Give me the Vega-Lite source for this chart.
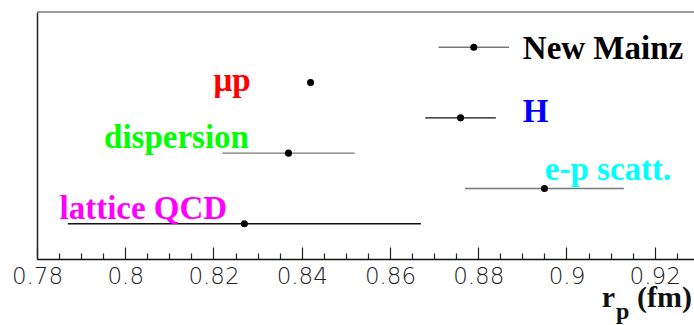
{
  "$schema": "https://vega.github.io/schema/vega-lite/v6.json",
  "width": 657,
  "height": 247,
  "autosize": {"type": "none"},
  "padding": {"left": 37, "top": 12, "right": 0, "bottom": 66},
  "background": "white",
  "config": {"view": {"stroke": null}, "axis": {"grid": false}},
  "datasets": {
    "meas": [
      {"name": "New Mainz", "r": 0.879, "lo": 0.871, "hi": 0.887, "row": 1},
      {"name": "μp", "r": 0.842, "lo": 0.8416, "hi": 0.8424, "row": 2},
      {"name": "H", "r": 0.876, "lo": 0.868, "hi": 0.884, "row": 3},
      {"name": "dispersion", "r": 0.837, "lo": 0.822, "hi": 0.852, "row": 4},
      {"name": "e-p scatt.", "r": 0.895, "lo": 0.877, "hi": 0.913, "row": 5},
      {"name": "lattice QCD", "r": 0.827, "lo": 0.787, "hi": 0.867, "row": 6}
    ],
    "labels": [
      {"name": "New Mainz", "lx": 0.8901, "ly": 1.326},
      {"name": "μp", "lx": 0.82, "ly": 2.253},
      {"name": "H", "lx": 0.8901, "ly": 3.123},
      {"name": "dispersion", "lx": 0.7952, "ly": 3.868},
      {"name": "e-p scatt.", "lx": 0.8951, "ly": 4.766},
      {"name": "lattice QCD", "lx": 0.7851, "ly": 5.86}
    ],
    "titleMain": [
      {"t": "r", "tx": 0.9080, "ty": 8.36},
      {"t": "(fm)", "tx": 0.9160, "ty": 8.36}
    ],
    "titleSub": [
      {"t": "p", "tx": 0.9112, "ty": 8.69}
    ]
  },
  "resolve": {"axis": {"x": "independent"}},
  "layer": [
    {
      "data": {"name": "meas"},
      "mark": {"type": "rule", "strokeWidth": 1.4},
      "encoding": {
        "x": {
          "field": "lo", "type": "quantitative",
          "scale": {"domain": [0.78, 0.9289], "nice": false, "zero": false},
          "axis": {
            "orient": "bottom",
            "values": [0.78, 0.8, 0.82, 0.84, 0.86, 0.88, 0.9, 0.92],
            "format": ".2~f",
            "tickSize": -12, "tickColor": "#222", "tickWidth": 1.2,
            "domainColor": "#111", "domainWidth": 1.5,
            "labelFont": "DejaVu Sans", "labelFontWeight": 200, "labelFontSize": 23,
            "labelColor": "#222", "labelPadding": 18, "labelFlush": false,
            "title": null
          }
        },
        "x2": {"field": "hi"},
        "y": {
          "field": "row", "type": "quantitative",
          "scale": {"domain": [0, 7], "reverse": true, "nice": false, "zero": false},
          "axis": {"orient": "left", "ticks": false, "labels": false, "title": null, "domainColor": "#222", "domainWidth": 1.5}
        },
        "color": {
          "condition": {"test": "datum.name === 'H' || datum.name === 'lattice QCD'", "value": "#111"},
          "value": "#777"
        }
      }
    },
    {
      "data": {"name": "meas"},
      "mark": {"type": "point", "filled": true, "size": 50, "color": "black", "opacity": 1},
      "encoding": {
        "x": {
          "field": "r", "type": "quantitative",
          "axis": {
            "orient": "bottom",
            "values": [0.785, 0.79, 0.795, 0.805, 0.81, 0.815, 0.825, 0.83, 0.835, 0.845, 0.85, 0.855, 0.865, 0.87, 0.875, 0.885, 0.89, 0.895, 0.905, 0.91, 0.915, 0.925],
            "tickSize": -6, "tickColor": "#222", "tickWidth": 1.2,
            "labels": false, "domain": false, "title": null
          }
        },
        "y": {"field": "row", "type": "quantitative"}
      }
    },
    {
      "data": {"values": [{"a": 0.78, "b": 0.9289, "t": 0}]},
      "mark": {"type": "rule", "color": "#777", "strokeWidth": 1.5},
      "encoding": {
        "x": {"field": "a", "type": "quantitative", "axis": null},
        "x2": {"field": "b"},
        "y": {"field": "t", "type": "quantitative"}
      }
    },
    {
      "data": {"name": "labels"},
      "mark": {"type": "text", "font": "Liberation Serif", "fontWeight": "bold", "fontSize": 33, "align": "left", "baseline": "alphabetic"},
      "encoding": {
        "x": {"field": "lx", "type": "quantitative", "axis": null},
        "y": {"field": "ly", "type": "quantitative"},
        "text": {"field": "name"},
        "color": {
          "field": "name", "type": "nominal", "legend": null,
          "scale": {
            "domain": ["New Mainz", "μp", "H", "dispersion", "e-p scatt.", "lattice QCD"],
            "range": ["#000000", "#ff0000", "#0000ff", "#00ff00", "#00ffff", "#ff00ff"]
          }
        }
      }
    },
    {
      "data": {"name": "titleMain"},
      "mark": {"type": "text", "font": "Liberation Serif", "fontWeight": "bold", "fontSize": 30, "align": "left", "baseline": "alphabetic", "color": "#111"},
      "encoding": {
        "x": {"field": "tx", "type": "quantitative", "axis": null},
        "y": {"field": "ty", "type": "quantitative"},
        "text": {"field": "t"}
      }
    },
    {
      "data": {"name": "titleSub"},
      "mark": {"type": "text", "font": "Liberation Serif", "fontWeight": "bold", "fontSize": 24, "align": "left", "baseline": "alphabetic", "color": "#111"},
      "encoding": {
        "x": {"field": "tx", "type": "quantitative", "axis": null},
        "y": {"field": "ty", "type": "quantitative"},
        "text": {"field": "t"}
      }
    }
  ]
}
